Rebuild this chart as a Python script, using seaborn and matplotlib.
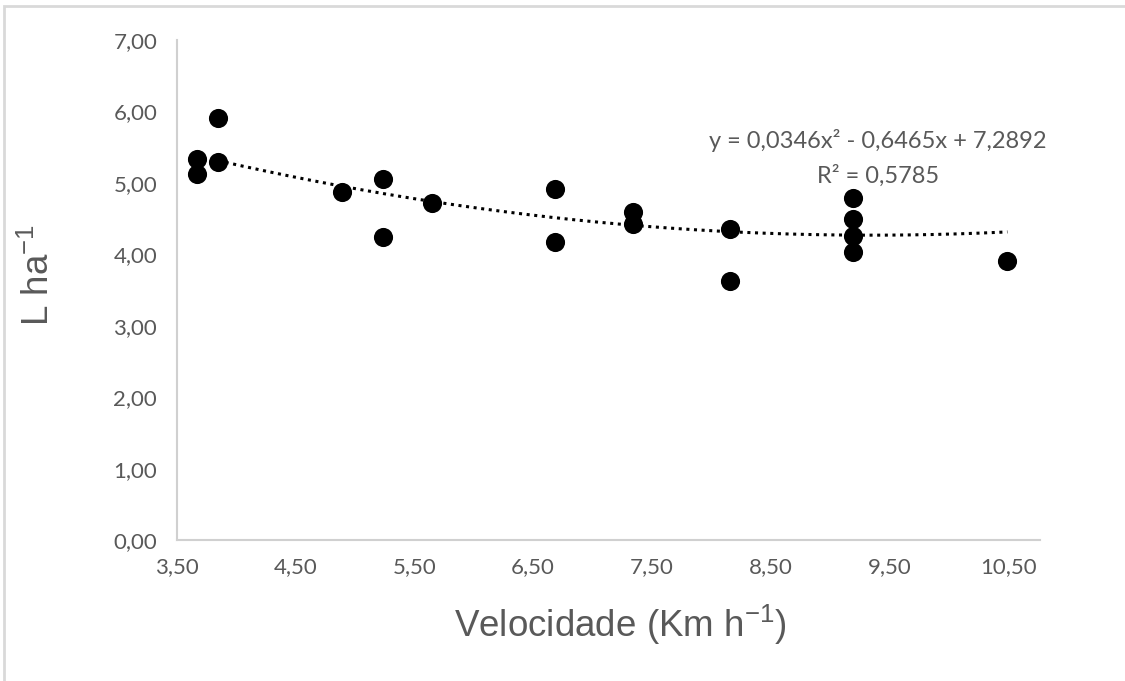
import numpy as np
import pandas as pd
import seaborn as sns
import matplotlib.pyplot as plt
from matplotlib.patches import Rectangle
from matplotlib.ticker import FuncFormatter, MultipleLocator

# data
velocidade = [3.67, 3.67, 3.85, 3.85, 4.89, 5.24, 5.24, 5.65, 6.68, 6.68,
              7.34, 7.34, 8.16, 8.16, 9.19, 9.19, 9.19, 9.19, 10.49]
volume = [5.33, 5.13, 5.91, 5.29, 4.88, 5.06, 4.25, 4.72, 4.92, 4.18,
          4.59, 4.42, 4.36, 3.63, 4.79, 4.49, 4.26, 4.04, 3.91]

# polynomial trendline as printed on the chart
coef_a, coef_b, coef_c = 0.0346, -0.6465, 7.2892
trend_start = 3.85
eq_text = "y = 0,0346x² - 0,6465x + 7,2892"
r2_text = "R² = 0,5785"

df = pd.DataFrame({'vel': velocidade, 'vol': volume})
tx = np.linspace(trend_start, max(velocidade), 200)
trend = pd.DataFrame({'vel': tx, 'vol': coef_a * tx**2 + coef_b * tx + coef_c})

sns.set_style('white')
plt.rcParams['font.family'] = ['Lato', 'DejaVu Sans']
plt.rcParams['mathtext.fontset'] = 'custom'
plt.rcParams['mathtext.rm'] = 'Liberation Sans'
plt.rcParams['mathtext.it'] = 'Liberation Sans'
plt.rcParams['mathtext.default'] = 'rm'

fig = plt.figure(figsize=(11.25, 6.81), dpi=100)
ax = fig.add_axes([0.157, 0.207, 0.767, 0.734])

sns.lineplot(data=trend, x='vel', y='vol', ax=ax, color='black', linestyle=(0, (1, 1.5)),
             linewidth=2.2, zorder=2)
sns.scatterplot(data=df, x='vel', y='vol', ax=ax, color='black', s=190,
                edgecolor='black', linewidth=0, zorder=3)

ax.set_xlim(3.5, 10.76)
ax.set_ylim(0, 7)
ax.xaxis.set_major_locator(MultipleLocator(1.0, offset=0.5))
ax.yaxis.set_major_locator(MultipleLocator(1.0))
fmt = FuncFormatter(lambda v, p: f"{v:.2f}".replace('.', ','))
ax.xaxis.set_major_formatter(fmt)
ax.yaxis.set_major_formatter(fmt)
ax.tick_params(axis='both', length=0, labelsize=16, labelcolor='#595959')
ax.tick_params(axis='x', pad=12)
ax.tick_params(axis='y', pad=14)

for s in ['top', 'right']:
    ax.spines[s].set_visible(False)
for s in ['left', 'bottom']:
    ax.spines[s].set_color('#d0d0d0')
    ax.spines[s].set_linewidth(1.5)

lab_font = ['Liberation Sans', 'DejaVu Sans']
ax.set_xlabel('Velocidade (Km h$^{-1}$)', fontsize=26.5, color='#595959', family=lab_font)
ax.set_ylabel('L ha$^{-1}$', fontsize=26.5, color='#595959', family=lab_font)
ax.xaxis.set_label_coords(0.514, -0.125)
ax.yaxis.set_label_coords(-0.139, 0.53)

fig.text(878 / 1125, 1 - 141 / 681, eq_text, ha='center', va='center',
         fontsize=17, color='#595959')
fig.text(878 / 1125, 1 - 176 / 681, r2_text, ha='center', va='center',
         fontsize=17, color='#595959')

# outer chart frame
fig.patches.append(Rectangle((4 / 1125, -0.1), 1.2, 1.1 - 6 / 681, transform=fig.transFigure,
                             fill=False, edgecolor='#d9d9d9', linewidth=2))

fig.savefig('out.png', dpi=100)
